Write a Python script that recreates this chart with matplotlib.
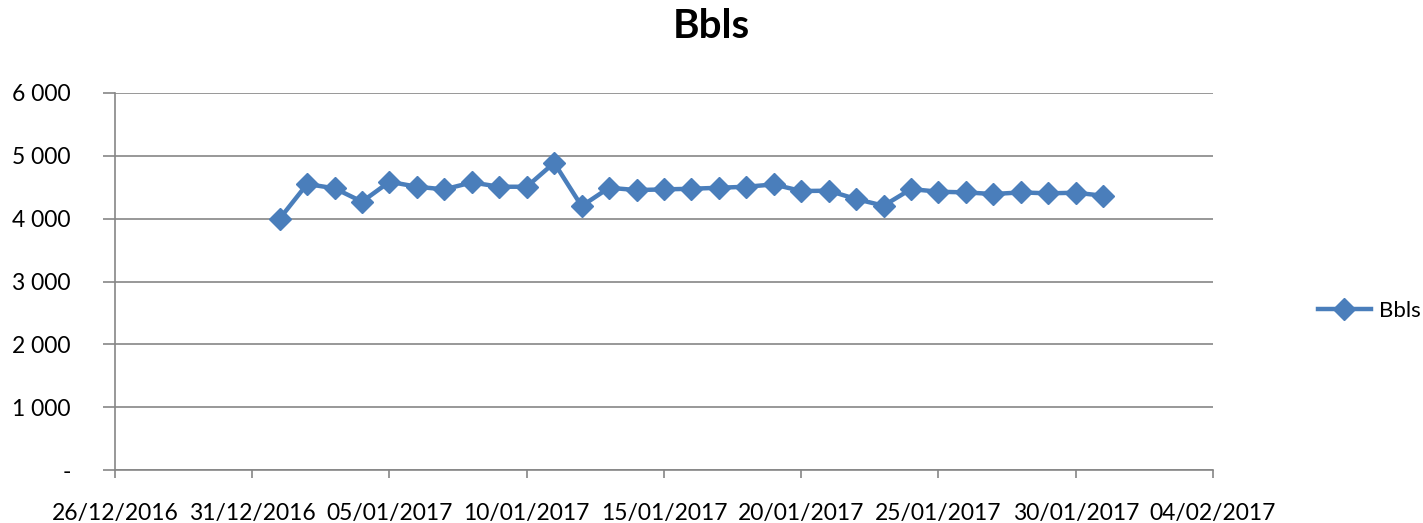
import matplotlib
matplotlib.use('Agg')
import matplotlib.pyplot as plt
import matplotlib.dates as mdates
from matplotlib.ticker import FuncFormatter, MultipleLocator
from datetime import datetime, timedelta
import pandas as pd

plt.rcParams['font.family'] = ['Lato', 'DejaVu Sans']

dates = pd.date_range('2017-01-01', '2017-01-31', freq='D')
bbls = [4000, 4551, 4483, 4270, 4587, 4508, 4466, 4577, 4508, 4508,
        4889, 4200, 4492, 4455, 4466, 4476, 4492, 4508, 4545, 4440,
        4445, 4312, 4206, 4471, 4429, 4418, 4392, 4418, 4403, 4413,
        4365]

blue = '#4A7EBB'
grey = '#868686'

fig = plt.figure(figsize=(14.23, 5.23), dpi=100)
ax = fig.add_axes([0.0808, 0.1013, 0.7716, 0.7209])

ax.plot(dates, bbls, color=blue, linewidth=3.2, marker='D', markersize=11,
        label='Bbls', solid_joinstyle='round')

start = datetime(2016, 12, 26)
end = datetime(2017, 2, 4)
ax.set_xlim(start, end)
ax.set_ylim(0, 6000)
ax.set_xticks([start + timedelta(days=5 * i) for i in range(9)])
ax.xaxis.set_major_formatter(mdates.DateFormatter('%d/%m/%Y'))
ax.yaxis.set_major_locator(MultipleLocator(1000))


def fmt(v, pos):
    if v == 0:
        return '-'
    return '{:,.0f}'.format(v).replace(',', ' ')


ax.yaxis.set_major_formatter(FuncFormatter(fmt))

ax.grid(axis='y', color=grey, linewidth=1.2)
ax.set_axisbelow(True)
for s in ['top', 'right']:
    ax.spines[s].set_visible(False)
for s in ['left', 'bottom']:
    ax.spines[s].set_color(grey)
    ax.spines[s].set_linewidth(1.2)
ax.tick_params(axis='x', direction='out', length=6, width=1.2, color=grey,
               pad=18, labelsize=16.5)
ax.tick_params(axis='y', direction='out', length=9, width=1.2, color=grey,
               pad=23, labelsize=16.5)

fig.suptitle('Bbls', x=0.5, y=0.985, fontsize=29, fontweight='bold')

fig.legend(loc='center left', bbox_to_anchor=(0.926, 0.405), frameon=False,
           fontsize=16, handlelength=2.4, handletextpad=0.35,
           borderpad=0, borderaxespad=0)

fig.savefig('out.png', dpi=100)
